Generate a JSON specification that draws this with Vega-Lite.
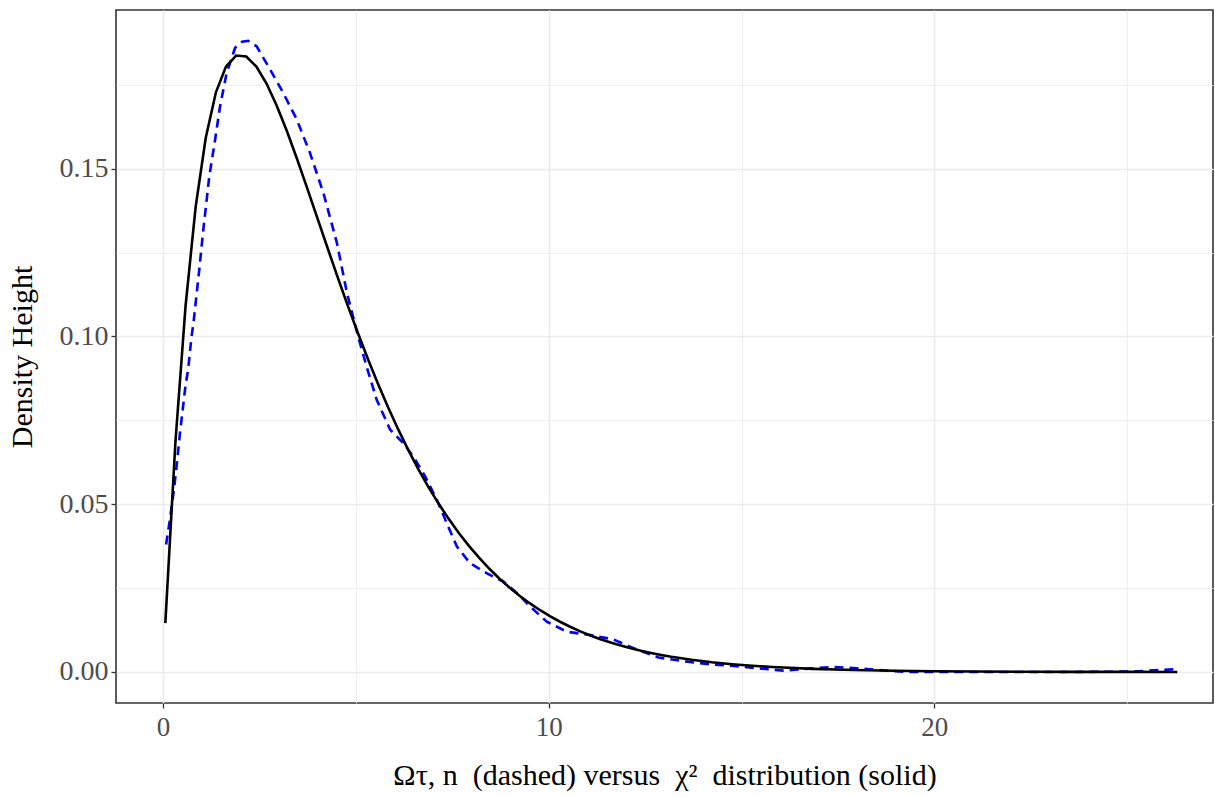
{
  "$schema": "https://vega.github.io/schema/vega-lite/v6.json",
  "autosize": "none",
  "width": 1097,
  "height": 693,
  "padding": {"left": 116, "top": 10, "right": 2, "bottom": 94},
  "background": "white",
  "config": {
    "view": {"stroke": "#333333", "strokeWidth": 1.6},
    "font": "Liberation Serif"
  },
  "datasets": {
    "chisq": [
      {"x": 0.06, "y": 0.014557}, {"x": 0.3224, "y": 0.068601}, {"x": 0.5848, "y": 0.109136},
      {"x": 0.8472, "y": 0.138666}, {"x": 1.1096, "y": 0.159285}, {"x": 1.372, "y": 0.172738},
      {"x": 1.6344, "y": 0.180474}, {"x": 1.8968, "y": 0.183698}, {"x": 2.1592, "y": 0.1834},
      {"x": 2.4216, "y": 0.180398}, {"x": 2.684, "y": 0.175362}, {"x": 2.9464, "y": 0.168838},
      {"x": 3.2088, "y": 0.161267}, {"x": 3.4712, "y": 0.153005}, {"x": 3.7336, "y": 0.144337},
      {"x": 3.996, "y": 0.135487}, {"x": 4.2584, "y": 0.126632}, {"x": 4.5208, "y": 0.117906},
      {"x": 4.7832, "y": 0.109411}, {"x": 5.0456, "y": 0.101224}, {"x": 5.308, "y": 0.093394},
      {"x": 5.5704, "y": 0.085961}, {"x": 5.8328, "y": 0.078943}, {"x": 6.0952, "y": 0.072352},
      {"x": 6.3576, "y": 0.066187}, {"x": 6.62, "y": 0.060446}, {"x": 6.8824, "y": 0.055114},
      {"x": 7.1448, "y": 0.050181}, {"x": 7.4072, "y": 0.045628}, {"x": 7.6696, "y": 0.041435},
      {"x": 7.932, "y": 0.037584}, {"x": 8.1944, "y": 0.034054}, {"x": 8.4568, "y": 0.030823},
      {"x": 8.7192, "y": 0.027871}, {"x": 8.9816, "y": 0.02518}, {"x": 9.244, "y": 0.022729},
      {"x": 9.5064, "y": 0.020501}, {"x": 9.7688, "y": 0.018475}, {"x": 10.0312, "y": 0.016639},
      {"x": 10.2936, "y": 0.014975}, {"x": 10.556, "y": 0.013469}, {"x": 10.8184, "y": 0.012106},
      {"x": 11.0808, "y": 0.010876}, {"x": 11.3432, "y": 0.009764}, {"x": 11.6056, "y": 0.008762},
      {"x": 11.868, "y": 0.00786}, {"x": 12.1304, "y": 0.007045}, {"x": 12.3928, "y": 0.006311},
      {"x": 12.6552, "y": 0.005654}, {"x": 12.9176, "y": 0.005061}, {"x": 13.18, "y": 0.004527},
      {"x": 13.7048, "y": 0.003621}, {"x": 14.2296, "y": 0.002892}, {"x": 14.7544, "y": 0.002307},
      {"x": 15.2792, "y": 0.001837}, {"x": 15.804, "y": 0.001462}, {"x": 16.8536, "y": 0.000922},
      {"x": 17.9032, "y": 0.00058}, {"x": 18.9528, "y": 0.000363}, {"x": 20.0024, "y": 0.000227},
      {"x": 21.052, "y": 0.000141}, {"x": 22.364, "y": 0.000078}, {"x": 23.676, "y": 0.000043},
      {"x": 24.988, "y": 0.000024}, {"x": 26.3, "y": 0.000013}
    ],
    "omega": [
      {"x": 0.08, "y": 0.038}, {"x": 0.18, "y": 0.0455}, {"x": 0.29, "y": 0.055},
      {"x": 0.36, "y": 0.0622}, {"x": 0.44, "y": 0.0712}, {"x": 0.57, "y": 0.0841},
      {"x": 0.66, "y": 0.091}, {"x": 0.74, "y": 0.1}, {"x": 0.79, "y": 0.104},
      {"x": 0.94, "y": 0.1199}, {"x": 1.045, "y": 0.1318}, {"x": 1.2, "y": 0.1477},
      {"x": 1.35, "y": 0.1586}, {"x": 1.48, "y": 0.1686}, {"x": 1.65, "y": 0.1785},
      {"x": 1.87, "y": 0.186}, {"x": 2.05, "y": 0.1878}, {"x": 2.21, "y": 0.1881},
      {"x": 2.43, "y": 0.1864}, {"x": 2.78, "y": 0.1795}, {"x": 3.12, "y": 0.1725},
      {"x": 3.47, "y": 0.1646}, {"x": 3.81, "y": 0.1547}, {"x": 4.16, "y": 0.1427},
      {"x": 4.51, "y": 0.1278}, {"x": 4.77, "y": 0.1129}, {"x": 5.07, "y": 0.0995},
      {"x": 5.28, "y": 0.091}, {"x": 5.54, "y": 0.0811}, {"x": 5.89, "y": 0.0722},
      {"x": 6.23, "y": 0.0682}, {"x": 6.49, "y": 0.0642}, {"x": 6.8, "y": 0.0582},
      {"x": 7.1, "y": 0.0513}, {"x": 7.36, "y": 0.0443}, {"x": 7.62, "y": 0.0374},
      {"x": 7.96, "y": 0.0324}, {"x": 8.4, "y": 0.0294}, {"x": 8.83, "y": 0.0269},
      {"x": 9.18, "y": 0.0235}, {"x": 9.52, "y": 0.0195}, {"x": 9.95, "y": 0.015},
      {"x": 10.47, "y": 0.012}, {"x": 11.08, "y": 0.011}, {"x": 11.68, "y": 0.0097},
      {"x": 12.2, "y": 0.0071}, {"x": 12.85, "y": 0.0043}, {"x": 13.5, "y": 0.0032},
      {"x": 14.19, "y": 0.0023}, {"x": 14.79, "y": 0.0018}, {"x": 15.4, "y": 0.0011},
      {"x": 16.09, "y": 0.0004}, {"x": 16.75, "y": 0.001}, {"x": 17.35, "y": 0.0015},
      {"x": 17.99, "y": 0.0011}, {"x": 18.65, "y": 0.0005}, {"x": 19.3, "y": 0.0},
      {"x": 20.5, "y": 0.0}, {"x": 22.0, "y": 0.0}, {"x": 23.5, "y": 0.0},
      {"x": 24.8, "y": 0.0001}, {"x": 25.3, "y": 0.0002}, {"x": 25.7, "y": 0.0005},
      {"x": 26.25, "y": 0.0008}
    ]
  },
  "encoding": {
    "x": {
      "field": "x", "type": "quantitative",
      "scale": {"domain": [-1.219, 27.225], "nice": false, "zero": false},
      "axis": {
        "title": "Ωτ, n\u00a0\u00a0(dashed) versus\u00a0\u00a0χ²\u00a0\u00a0distribution (solid)",
        "titleFont": "Liberation Serif", "titleFontSize": 30, "titleFontWeight": "normal",
        "titleColor": "#000000", "titlePadding": 20,
        "values": [0, 5, 10, 15, 20, 25],
        "labelExpr": "datum.value % 10 === 0 ? datum.label : ''",
        "labelOverlap": false,
        "labelFont": "Liberation Serif", "labelFontSize": 27, "labelColor": "#4D4D4D",
        "labelPadding": 6,
        "domain": false,
        "tickColor": "#333333", "tickSize": 5, "tickWidth": 1.3,
        "tickOpacity": {"condition": {"test": "datum.value % 10 === 0", "value": 1}, "value": 0},
        "gridColor": "#EBEBEB",
        "gridWidth": {"condition": {"test": "datum.value % 10 === 0", "value": 1.6}, "value": 0.8}
      }
    },
    "y": {
      "field": "y", "type": "quantitative",
      "scale": {"domain": [-0.009245, 0.19727], "nice": false, "zero": false},
      "axis": {
        "title": "Density Height",
        "titleFont": "Liberation Serif", "titleFontSize": 30, "titleFontWeight": "normal",
        "titleColor": "#000000", "titlePadding": 22,
        "values": [0, 0.025, 0.05, 0.075, 0.1, 0.125, 0.15, 0.175],
        "format": ".2f",
        "labelExpr": "round(datum.value * 1000) % 50 === 0 ? datum.label : ''",
        "labelOverlap": false,
        "labelFont": "Liberation Serif", "labelFontSize": 28, "labelColor": "#4D4D4D",
        "labelPadding": 3,
        "domain": false,
        "tickColor": "#333333", "tickSize": 5, "tickWidth": 1.3,
        "tickOpacity": {"condition": {"test": "round(datum.value * 1000) % 50 === 0", "value": 1}, "value": 0},
        "gridColor": "#EBEBEB",
        "gridWidth": {"condition": {"test": "round(datum.value * 1000) % 50 === 0", "value": 1.6}, "value": 0.8}
      }
    }
  },
  "layer": [
    {
      "data": {"name": "omega"},
      "mark": {"type": "line", "color": "#0000FF", "strokeWidth": 2.6, "strokeDash": [9, 6], "clip": true}
    },
    {
      "data": {"name": "chisq"},
      "mark": {"type": "line", "color": "#000000", "strokeWidth": 2.6, "clip": true}
    }
  ]
}
